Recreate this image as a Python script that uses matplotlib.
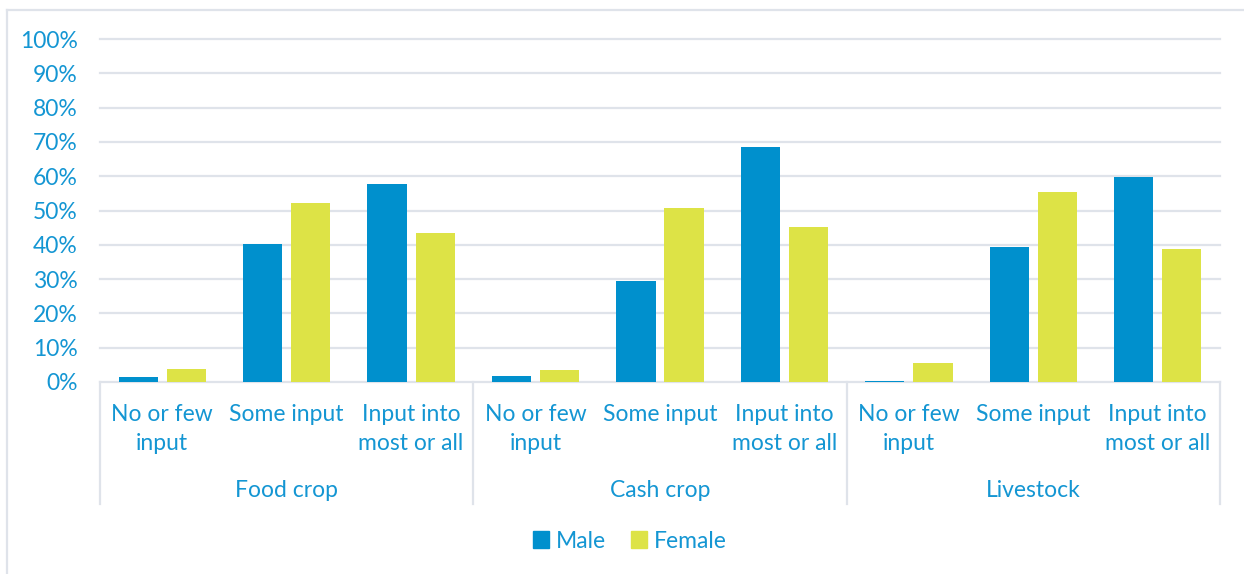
import numpy as np
import matplotlib.pyplot as plt
from matplotlib.patches import Patch
from matplotlib.lines import Line2D

groups = ["Food crop", "Cash crop", "Livestock"]
levels = ["No or few\ninput", "Some input", "Input into\nmost or all"]
male = [1.5, 40.2, 57.6, 1.7, 29.4, 68.4, 0.4, 39.4, 59.9]
female = [3.9, 52.2, 43.4, 3.6, 50.8, 45.2, 5.6, 55.3, 38.8]

male_color = '#0090CD'
female_color = '#DDE346'
text_color = '#1496D3'
grid_color = '#DFE3EA'

plt.rcParams['font.family'] = ['Lato', 'DejaVu Sans']
fs = 16.5

W, H = 1244, 574
fig = plt.figure(figsize=(W / 100, H / 100), dpi=100)
ax = fig.add_axes([100 / W, 1 - 382 / H, 1120 / W, 343 / H])

x = np.arange(len(male))
bw = 0.315
ax.bar(x - 0.193, np.array(male) / 100, bw, color=male_color, linewidth=0, zorder=3)
ax.bar(x + 0.193, np.array(female) / 100, bw, color=female_color, linewidth=0, zorder=3)

ax.set_xlim(-0.5, len(male) - 0.5)
ax.set_ylim(0, 1.0)
ticks = np.arange(0, 1.01, 0.1)
ax.set_yticks(ticks)
ax.set_yticklabels(["%d%%" % round(t * 100) for t in ticks], color=text_color, fontsize=fs)
ax.tick_params(axis='y', length=0, pad=16)
ax.set_xticks([])
for t in ticks:
    ax.axhline(t, color=grid_color, lw=1.6, zorder=1, clip_on=False)
for s in ax.spines.values():
    s.set_visible(False)

xt = ax.get_xaxis_transform()
# sub-category labels
for i in range(len(male)):
    ax.text(i, -0.064, levels[i % 3], transform=xt, ha='center', va='top',
            color=text_color, fontsize=fs, linespacing=1.45)
# group labels and separators
for g, name in enumerate(groups):
    ax.text(g * 3 + 1, -0.315, name, transform=xt, ha='center', va='center',
            color=text_color, fontsize=fs)
for b in range(4):
    ax.add_line(Line2D([b * 3 - 0.5] * 2, [0, -0.357], transform=xt,
                       color=grid_color, lw=1.6, clip_on=False))

handles = [Patch(color=male_color, label='Male'), Patch(color=female_color, label='Female')]
leg = fig.legend(handles=handles, loc='center', bbox_to_anchor=(630 / W, 1 - 541 / H), ncol=2,
                 frameon=False, fontsize=fs, handlelength=0.7, handleheight=0.7,
                 handletextpad=0.3, columnspacing=1.1)
for t in leg.get_texts():
    t.set_color(text_color)

# outer chart frame (top and left edges)
fig.add_artist(Line2D([7 / W, 1], [1 - 10 / H] * 2, transform=fig.transFigure, color=grid_color, lw=1.6))
fig.add_artist(Line2D([7 / W] * 2, [0, 1 - 10 / H], transform=fig.transFigure, color=grid_color, lw=1.6))

fig.savefig('out.png', dpi=100)
